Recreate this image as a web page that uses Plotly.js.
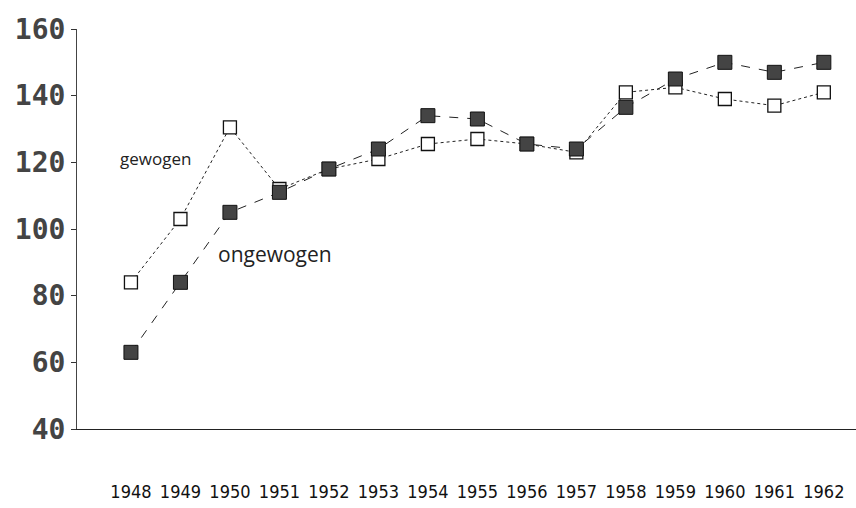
<!DOCTYPE html>
<html>
<head>
<meta charset="utf-8">
<script src="https://cdn.plot.ly/plotly-3.0.1.min.js"></script>
<style>
  html, body { margin: 0; padding: 0; background: #fff; }
  #chart { width: 856px; height: 508px; }
</style>
</head>
<body>
<div id="chart"></div>
<script>
const years = [1948, 1949, 1950, 1951, 1952, 1953, 1954, 1955, 1956, 1957, 1958, 1959, 1960, 1961, 1962];
const ongewogen = [63, 84, 105, 111, 118, 124, 134, 133, 125.5, 124, 136.5, 145, 150, 147, 150];
const gewogen = [84, 103, 130.5, 112, 118, 121, 125.5, 127, 125.5, 123, 141, 142.5, 139, 137, 141];
const yTicks = [40, 60, 80, 100, 120, 140, 160];
const yTickText = ['40', '60', '80', '100', '120', '140', '160'];
const seriesNames = ['gewogen', 'ongewogen'];

const traces = [
  {
    x: years, y: gewogen, name: seriesNames[0], type: 'scatter', mode: 'lines+markers',
    line: { color: '#222', width: 1, dash: 'dot' },
    marker: { symbol: 'square', size: 13, color: '#ffffff', line: { color: '#111', width: 1.3 } }
  },
  {
    x: years, y: ongewogen, name: seriesNames[1], type: 'scatter', mode: 'lines+markers',
    line: { color: '#222', width: 1, dash: 'dash' },
    marker: { symbol: 'square', size: 14, color: '#444444', line: { color: '#111', width: 1 } }
  }
];

const layout = {
  width: 856, height: 508,
  paper_bgcolor: '#fff', plot_bgcolor: '#fff',
  showlegend: false,
  margin: { l: 77, r: 0, t: 29, b: 79 },
  xaxis: {
    range: [1946.91, 1962.65],
    tickmode: 'array', tickvals: years, ticktext: years.map(String),
    showgrid: false, zeroline: false,
    showline: true, linecolor: '#222', linewidth: 1.3,
    ticks: '', ticklabelstandoff: 46, tickangle: 0,
    tickfont: { family: '"DejaVu Sans Condensed", "Liberation Sans Narrow", "DejaVu Sans", sans-serif', size: 18, color: '#111' }
  },
  yaxis: {
    range: [40, 160],
    tickmode: 'array', tickvals: yTicks, ticktext: yTickText,
    showgrid: false, zeroline: false,
    showline: true, linecolor: '#444', linewidth: 1,
    ticks: 'outside', ticklen: 5, tickcolor: '#333',
    tickfont: { family: '"DejaVu Sans Mono", "Liberation Mono", monospace', size: 28, color: '#444', weight: 'bold' }
  },
  annotations: [
    { x: 1948.49, y: 121.3, xref: 'x', yref: 'y', text: 'gewogen', showarrow: false,
      font: { family: '"Open Sans", "Noto Sans", sans-serif', size: 17, color: '#222' } },
    { x: 1950.91, y: 92.6, xref: 'x', yref: 'y', text: 'ongewogen', showarrow: false,
      font: { family: '"Open Sans", "Noto Sans", sans-serif', size: 21, color: '#222' } }
  ]
};

Plotly.newPlot('chart', traces, layout, { displayModeBar: false, staticPlot: true });
</script>
</body>
</html>
